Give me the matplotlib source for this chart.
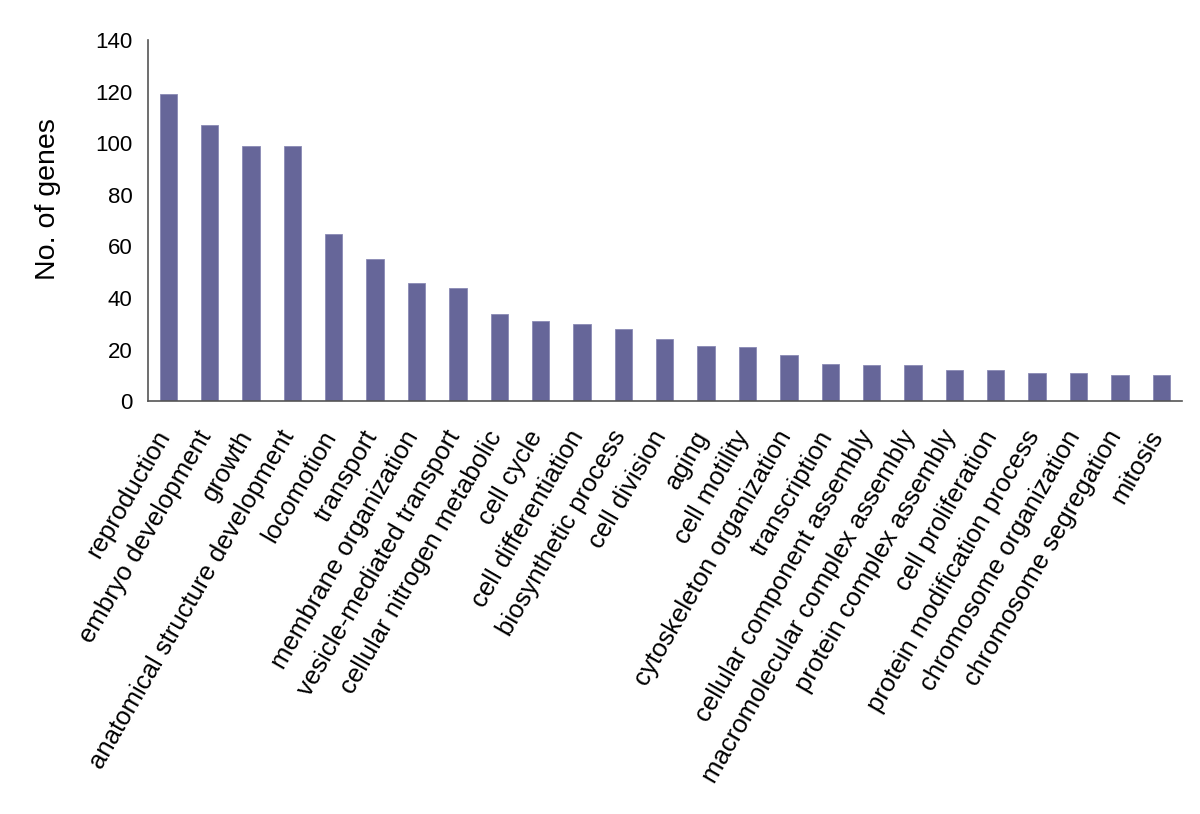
import numpy as np
import matplotlib
matplotlib.use('Agg')
import matplotlib.pyplot as plt
import matplotlib.transforms as mtransforms

plt.rcParams['font.family'] = ['Liberation Sans', 'DejaVu Sans']

categories = ['reproduction', 'embryo development', 'growth',
              'anatomical structure development', 'locomotion', 'transport',
              'membrane organization', 'vesicle-mediated transport',
              'cellular nitrogen metabolic', 'cell cycle', 'cell differentiation',
              'biosynthetic process', 'cell division', 'aging', 'cell motility',
              'cytoskeleton organization', 'transcription',
              'cellular component assembly', 'macromolecular complex assembly',
              'protein complex assembly', 'cell proliferation',
              'protein modification process', 'chromosome organization',
              'chromosome segregation', 'mitosis']
gene_counts = [119, 107, 99, 99, 65, 55, 46, 44, 34, 31, 30, 28, 24, 21.5, 21,
               18, 14.5, 14, 14, 12, 12, 11, 11, 10, 10]
y_ticks = [0, 20, 40, 60, 80, 100, 120, 140]

fig = plt.figure(figsize=(12, 8.14), dpi=100)
ax = fig.add_axes([0.123, 0.507, 0.862, 0.444])

x = np.arange(len(categories))
ax.bar(x, gene_counts, width=0.42, color='#666699', edgecolor='#8a8ab5',
       linewidth=0.6)

ax.set_xlim(-0.5, len(categories) - 0.5)
ax.set_ylim(0, 140)
ax.set_yticks(y_ticks)
ax.set_xticks(x)
ax.set_xticklabels(categories, rotation=60, ha='right', rotation_mode='anchor',
                   fontsize=18.5)
ax.tick_params(axis='both', length=0)
ax.tick_params(axis='y', labelsize=16, pad=11)
ax.tick_params(axis='x', pad=18)

# move the slanted labels a bit to the left, like the original
shift = mtransforms.ScaledTranslation(-10 / 72, 0, fig.dpi_scale_trans)
for lbl in ax.get_xticklabels():
    lbl.set_transform(lbl.get_transform() + shift)

ax.set_ylabel('No. of genes', fontsize=20.5)
ax.yaxis.set_label_coords(-0.084, 0.56)

ax.spines['top'].set_visible(False)
ax.spines['right'].set_visible(False)
for s in ['left', 'bottom']:
    ax.spines[s].set_color('#555555')
    ax.spines[s].set_linewidth(1.2)

fig.savefig('out.png', dpi=100)
